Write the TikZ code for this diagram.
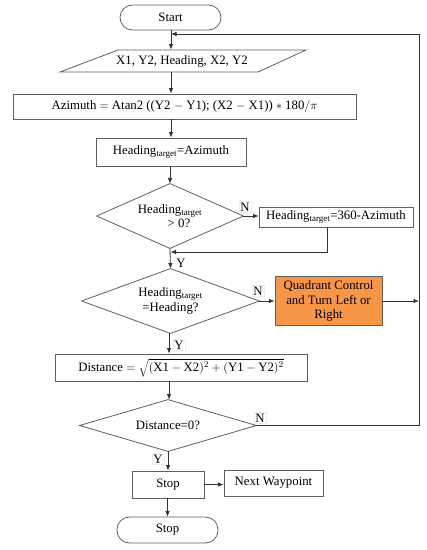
\documentclass[tikz,border=0pt]{standalone}
\usepackage{fontspec}
\setmainfont{Liberation Serif}
\usetikzlibrary{shapes.geometric,arrows.meta}
\definecolor{boxline}{RGB}{95,95,95}
\definecolor{arrline}{RGB}{50,50,50}
\definecolor{quadfill}{RGB}{247,150,70}
\tikzset{
  base/.style={draw=boxline, line width=0.8pt, inner sep=1pt, align=center,
    font=\fontsize{12.8}{14.3}\selectfont},
  procbox/.style={base, rectangle},
  term/.style={base, rectangle, rounded corners=12.5pt},
  decide/.style={base, draw=none, rectangle, inner sep=0pt},
  dshape/.style={draw=boxline, line width=0.8pt},
  arr/.style={draw=arrline, line width=0.8pt, -{Latex[length=5.5pt,width=4.5pt]}},
  plain/.style={draw=arrline, line width=0.8pt},
  lab/.style={fill=white, draw=black!7, line width=0.4pt, inner sep=1.5pt,
    font=\fontsize{12.8}{13}\selectfont},
}
\begin{document}
\begin{tikzpicture}[x=1pt,y=-1pt]
\useasboundingbox (0,0) rectangle (427,550);
\node[term, minimum width=101pt, minimum height=25pt] (start) at (170.5,17.5) {Start};
% parallelogram
\node[base, draw=none, minimum width=190pt, minimum height=22pt] (para) at (182,61) {X1, Y2, Heading, X2, Y2};
\draw[boxline, line width=0.8pt] (118,50) -- (306,50) -- (258,72) -- (60,72) -- cycle;
\node[procbox, minimum width=343pt, minimum height=25pt] (az) at (184.5,106.5)
  {Azimuth $=$ Atan2 ((Y2 $-$ Y1); (X2 $-$ X1)) $*$ 180$/\pi$};
\node[procbox, minimum width=150pt, minimum height=28pt] (hb) at (171,152) {Heading\textsubscript{target}=Azimuth};
\node[decide, minimum width=146pt, minimum height=64pt] (d1) at (170,216)
  {Heading\textsubscript{target}\\\hspace*{1.4em}> 0?};
\draw[dshape] (d1.north) -- (d1.east) -- (d1.south) -- (d1.west) -- cycle;
\node[procbox, minimum width=154pt, minimum height=20pt] (h360) at (336,217) {Heading\textsubscript{target}=360-Azimuth};
\node[decide, minimum width=177pt, minimum height=64pt] (d2) at (170.5,301)
  {Heading\textsubscript{target}\\=Heading?};
\draw[dshape] (d2.north) -- (d2.east) -- (d2.south) -- (d2.west) -- cycle;
\node[procbox, fill=quadfill, minimum width=107pt, minimum height=49pt] (quad) at (328.5,301)
  {Quadrant Control\\and Turn Left or\\Right};
\node[procbox, minimum width=252pt, minimum height=27pt] (dist) at (181,367.5)
  {Distance $=\sqrt{(\mathrm{X1}-\mathrm{X2})^2+(\mathrm{Y1}-\mathrm{Y2})^2}$};
\node[decide, minimum width=176pt, minimum height=51pt] (d3) at (168,425.5) {Distance=0?};
\draw[dshape] (d3.north) -- (d3.east) -- (d3.south) -- (d3.west) -- cycle;
\node[procbox, minimum width=72pt, minimum height=27pt] (stopb) at (168,484.5) {Stop};
\node[procbox, minimum width=99pt, minimum height=26pt] (nextw) at (273.5,483) {Next Waypoint};
\node[term, minimum width=101pt, minimum height=26pt] (stopt) at (167.5,530) {Stop};
% coordinates
\coordinate (join) at (171,34);
\coordinate (rail) at (419,34);
\coordinate (join2) at (170.5,252);
% connectors
\draw[arr] (start.south -| join) -- (join |- para.north);
\draw[arr] (join |- para.south) -- (join |- az.north);
\draw[arr] (join |- az.south) -- (join |- hb.north);
\draw[arr] (hb.south -| d1.north) -- (d1.north);
\draw[arr] (d1.east) -- (d1.east -| h360.west);
\draw[arr] ([xshift=-9pt]h360.south) |- (join2);
\draw[arr] (d1.south) -- (d2.north);
\draw[arr] (d2.east) -- (d2.east -| quad.west);
\draw[arr] (quad.east) -- (quad.east -| rail);
\draw[arr] (d2.south -| 169,0) -- (169,0 |- dist.north);
\draw[arr] (169,0 |- dist.south) -- (169,0 |- d3.north);
\draw[plain] (d3.east) -| (rail);
\draw[arr] (rail) -- (join);
\draw[arr] (d3.south) -- (stopb.north);
\draw[arr] (stopb.east) -- (stopb.east -| nextw.west);
\draw[arr] (stopb.south) -- (stopb.south -| stopt.north) -- (stopt.north);
% labels
\node[lab] (n1) at (245,207) {N};
\node[lab] (n2) at (258,291) {N};
\node[lab] (n3) at (260,418) {N};
\node[lab, draw=none, fill=none] (y1) at (181,263) {Y};
\node[lab] (y2) at (179,345) {Y};
\node[lab] (y3) at (158,459) {Y};
\end{tikzpicture}
\end{document}
